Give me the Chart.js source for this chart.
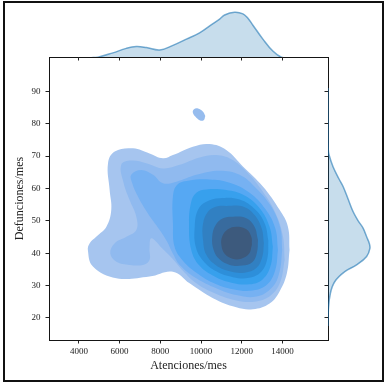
<!DOCTYPE html>
<html>
<head>
<meta charset="utf-8">
<script src="https://cdn.jsdelivr.net/npm/chart.js@4.4.1/dist/chart.umd.min.js"></script>
<style>
  html, body { margin: 0; padding: 0; background: #fff; }
  #wrap { position: relative; width: 385px; height: 383px; overflow: hidden; }
  #wrap canvas { position: absolute; }
  #frame { position: absolute; left: 3px; top: 1px; width: 377px; height: 377px; border: 2px solid #111; }
</style>
</head>
<body>
<div id="wrap">
  <div id="frame"></div>
  <canvas id="joint" width="385" height="383" style="left:0;top:0"></canvas>
  <canvas id="margTop" width="385" height="62" style="left:0;top:0"></canvas>
  <canvas id="margRight" width="65" height="383" style="left:320px;top:0"></canvas>
</div>
<script>
// axis ranges and ticks
const xRange = [2530, 16240];
const yRange = [13.2, 100.6];
const xTicks = [4000, 6000, 8000, 10000, 12000, 14000];
const yTicks = [20, 30, 40, 50, 60, 70, 80, 90];

// KDE contour levels, outermost first: [Atenciones/mes, Defunciones/mes]
const level1 = [[5430,67.8],[5760,71.4],[6660,72.4],[7470,70.8],[8130,69.3],[8620,70.3],[9600,72.9],[10420,73.7],[11240,71.9],[12060,66.8],[13040,60.6],[13860,53.4],[14270,48.2],[14350,41.0],[14220,33.8],[13860,28.2],[13370,24.5],[12550,22.7],[11730,23.3],[10590,26.1],[9440,30.7],[8620,34.3],[7470,32.8],[5840,32.3],[4690,35.9],[4440,41.0],[4530,43.1],[4850,45.1],[5350,48.2],[5590,53.4],[5510,59.5]];
const level2 = [[6080,67.3],[6570,68.6],[7310,67.8],[8130,66.2],[8950,67.3],[9930,69.6],[10750,70.3],[11490,69.0],[12230,65.2],[13040,59.0],[13670,52.3],[14030,45.1],[14110,37.9],[13900,31.2],[13450,27.1],[12720,25.1],[11730,25.4],[10670,27.6],[9770,30.7],[9110,34.6],[8590,38.4],[8050,41.8],[7560,44.6],[7470,41.5],[7470,37.9],[7150,36.4],[6490,36.4],[5840,37.4],[5540,40.0],[5760,43.1],[6330,45.1],[6820,47.2],[6820,51.3],[6490,56.4],[6200,61.6]];
const level3 = [[6570,64.2],[7070,65.7],[7640,64.2],[8130,61.6],[8790,62.1],[9770,64.2],[10910,65.5],[11900,64.2],[12720,60.0],[13450,54.4],[13900,47.7],[13990,41.0],[13860,34.3],[13500,29.5],[12720,26.6],[11730,27.1],[10750,29.2],[9770,32.3],[8950,36.4],[8620,39.8],[8330,43.6],[7970,47.2],[7390,52.3],[6900,57.5],[6620,61.6]];
const level4 = [[8820,61.1],[9360,62.4],[10420,62.8],[11410,61.8],[12390,58.7],[13170,53.6],[13650,47.7],[13780,41.0],[13650,34.8],[13260,30.4],[12550,28.5],[11570,28.9],[10590,30.9],[9770,34.0],[9110,37.7],[8700,42.0],[8620,49.2],[8620,57.5]];
const level5 = [[9770,58.7],[10260,59.7],[11240,59.5],[12140,57.8],[12880,53.9],[13370,48.2],[13530,42.0],[13420,36.1],[13040,32.0],[12390,30.4],[11490,30.9],[10670,32.8],[9930,36.1],[9520,41.0],[9410,49.2],[9520,55.9]];
const level6 = [[10260,55.9],[10910,57.0],[11900,56.6],[12680,53.4],[13140,49.0],[13310,43.9],[13260,38.4],[12960,34.3],[12360,32.4],[11570,32.6],[10750,34.4],[10100,37.7],[9740,42.0],[9690,48.2],[9850,53.4]];
const level7 = [[10750,54.4],[11240,54.6],[12060,54.4],[12630,51.8],[12980,47.7],[13090,43.1],[13010,38.8],[12720,35.4],[12140,34.0],[11410,34.4],[10750,36.2],[10260,39.5],[10100,44.1],[10100,49.2],[10340,52.8]];
const level8 = [[11080,50.8],[11570,51.3],[12230,50.8],[12630,48.2],[12800,44.1],[12750,40.2],[12520,37.2],[12030,36.2],[11410,36.4],[10910,38.1],[10620,41.0],[10550,45.1],[10720,48.7]];
const level9 = [[11730,48.2],[12230,47.4],[12470,45.1],[12500,42.6],[12360,39.8],[11980,38.3],[11540,38.3],[11160,39.8],[11000,42.6],[11050,45.3],[11320,47.4]];
const island = [[9640,84.4],[9850,84.7],[10100,83.7],[10210,82.4],[10130,81.1],[9930,81.1],[9720,82.2],[9600,83.4]];

const levelColors = ['#a6c5ef', '#90baef', '#76b1f2', '#56a8f3', '#37a0ed', '#2d8fda', '#3180c2', '#386b9e', '#3d5a7d'];
const islandColor = '#96bcee';

// marginal densities (x 1e-5 for the top one, x 1e-3 for the right one)
const topX = [3500, 4200, 4600, 4935, 5670, 6330, 6820, 7310, 7970, 8620, 9280, 9930, 10590, 10915, 11160, 11650, 12060, 12305, 12550, 13040, 13530, 13950, 14400, 15000];
const topDensity = [0, 0.05, 0.2, 0.5, 3.2, 6.0, 7.1, 6.5, 5.0, 7.9, 11.8, 15.7, 21.5, 24.3, 26.9, 28.6, 27.6, 24.8, 20.5, 11.8, 4.3, 0.5, 0.05, 0];
const rightY = [91, 80, 72, 70.4, 66.7, 63, 60.6, 56.5, 52.8, 50, 47.7, 45, 43.1, 41.5, 39.0, 36.4, 34.3, 31.2, 27.7, 22.5, 17.5];
const rightDensity = [0, 0.1, 0.3, 1.2, 6.0, 13.0, 18.0, 24.3, 30.0, 36.0, 42.0, 46.2, 49.2, 50.0, 46.1, 34.1, 20.0, 8.0, 2.9, 0.4, 0];

const serif = "'Liberation Serif', 'DejaVu Serif', serif";
const ink = '#222';

const fixTicks = list => axis => { axis.ticks = list.map(v => ({ value: v })); };

// closed outline, started at its easternmost point so the spline seam sits on a flat side
const toPoints = pts => {
    let start = 0;
    pts.forEach((p, i) => { if (p[0] > pts[start][0]) start = i; });
    const ring = pts.slice(start).concat(pts.slice(0, start));
    return ring.concat([ring[0]]).map(p => ({ x: p[0], y: p[1] }));
};

const contourLevels = [level1, level2, level3, level4, level5, level6, level7, level8, level9];
const jointSets = contourLevels.map((pts, i) => ({
    data: toPoints(pts),
    showLine: true,
    fill: 'shape',
    backgroundColor: levelColors[i],
    borderColor: 'rgba(0,0,0,0)',
    borderWidth: 0,
    pointRadius: 0,
    tension: 0.4,
    order: contourLevels.length - i
}));
jointSets.push({
    data: toPoints(island),
    showLine: true,
    fill: 'shape',
    backgroundColor: islandColor,
    borderColor: 'rgba(0,0,0,0)',
    borderWidth: 0,
    pointRadius: 0,
    tension: 0.4,
    order: 20
});

// spines round the joint axes
const spines = {
    id: 'spines',
    afterDraw(chart) {
        const { ctx, chartArea: a } = chart;
        ctx.save();
        ctx.strokeStyle = '#151515';
        ctx.lineWidth = 1;
        ctx.strokeRect(a.left + 0.5, a.top + 0.5, a.right - a.left, a.bottom - a.top);
        ctx.restore();
    }
};

const tickGrid = { drawOnChartArea: false, drawTicks: true, tickLength: 3.5, color: ink, lineWidth: 1 };

new Chart(document.getElementById('joint'), {
    type: 'scatter',
    data: { datasets: jointSets },
    options: {
        responsive: false,
        animation: false,
        events: [],
        layout: { padding: { left: 9, top: 57, right: 57, bottom: 6 } },
        plugins: { legend: { display: false }, tooltip: { enabled: false } },
        scales: {
            x: {
                type: 'linear',
                min: xRange[0], max: xRange[1],
                afterBuildTicks: fixTicks(xTicks),
                afterFit: s => { s.height = 37; },
                border: { display: false },
                grid: tickGrid,
                ticks: { color: ink, padding: 3, font: { family: serif, size: 9 }, callback: v => String(v) },
                title: { display: true, text: 'Atenciones/mes', color: ink, font: { family: serif, size: 12 } }
            },
            y: {
                type: 'linear',
                min: yRange[0], max: yRange[1],
                afterBuildTicks: fixTicks(yTicks),
                afterFit: s => { s.width = 40; },
                border: { display: false },
                grid: tickGrid,
                ticks: { color: ink, padding: 5, font: { family: serif, size: 9 }, callback: v => String(v) },
                title: { display: true, text: 'Defunciones/mes', color: ink, font: { family: serif, size: 12 } }
            }
        }
    },
    plugins: [spines]
});

const margFill = 'rgba(31,119,180,0.25)';
const margLine = 'rgba(31,119,180,0.6)';

// top marginal: density of Atenciones/mes
const topPts = topX.map((x, i) => ({ x: x, y: topDensity[i] }));
new Chart(document.getElementById('margTop'), {
    type: 'scatter',
    data: { datasets: [{
        data: topPts,
        showLine: true,
        fill: 'shape',
        backgroundColor: margFill,
        borderColor: margLine,
        borderWidth: 1.5,
        pointRadius: 0,
        tension: 0.4
    }] },
    options: {
        responsive: false,
        animation: false,
        events: [],
        layout: { padding: { left: 49, top: 10, right: 57, bottom: 0 } },
        plugins: { legend: { display: false }, tooltip: { enabled: false } },
        scales: {
            x: {
                type: 'linear',
                min: xRange[0], max: xRange[1],
                afterBuildTicks: fixTicks(xTicks),
                afterFit: s => { s.height = 5; },
                border: { display: false },
                grid: tickGrid,
                ticks: { display: false }
            },
            y: { display: false, min: 0.6, max: 30 }
        }
    }
});

// right marginal: density of Defunciones/mes
const rightPts = rightY.map((y, i) => ({ x: rightDensity[i], y: y }));
new Chart(document.getElementById('margRight'), {
    type: 'scatter',
    data: { datasets: [{
        data: rightPts,
        showLine: true,
        fill: 'shape',
        backgroundColor: margFill,
        borderColor: margLine,
        borderWidth: 1.5,
        pointRadius: 0,
        tension: 0.4
    }] },
    options: {
        responsive: false,
        animation: false,
        events: [],
        layout: { padding: { left: 0, top: 57, right: 13, bottom: 43 } },
        plugins: { legend: { display: false }, tooltip: { enabled: false } },
        scales: {
            x: { display: false, min: 0, max: 52.5 },
            y: {
                type: 'linear',
                position: 'left',
                min: yRange[0], max: yRange[1],
                afterBuildTicks: fixTicks(yTicks),
                afterFit: s => { s.width = 8; },
                border: { display: false },
                grid: tickGrid,
                ticks: { display: false }
            }
        }
    }
});
</script>
</body>
</html>
